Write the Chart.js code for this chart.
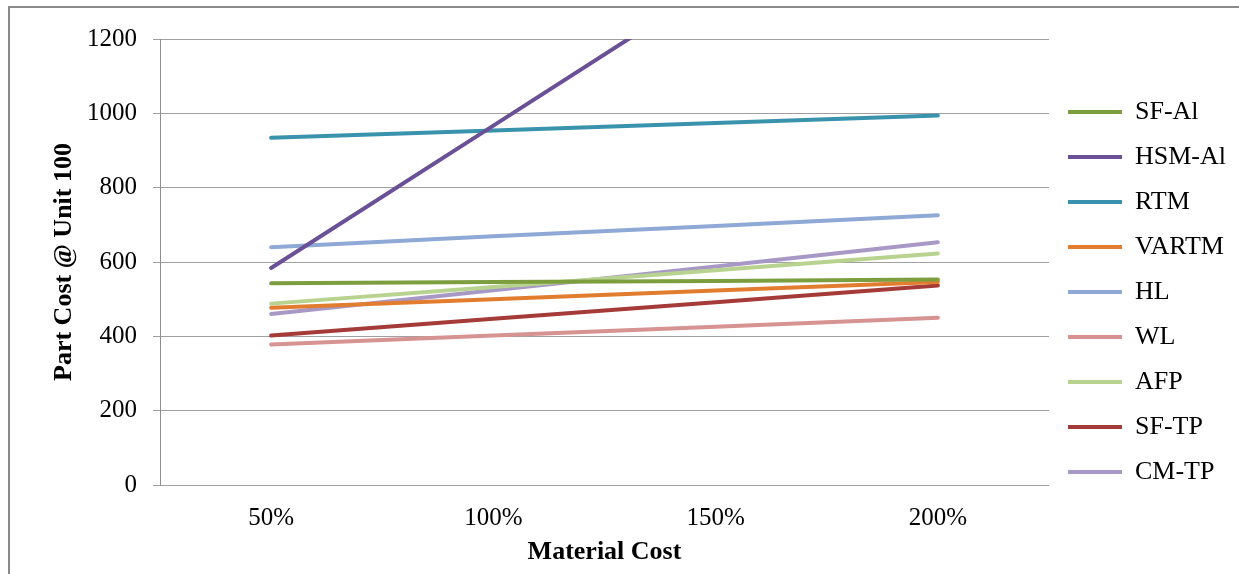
<!DOCTYPE html>
<html>
<head>
<meta charset="utf-8">
<script src="https://cdn.jsdelivr.net/npm/chart.js@4/dist/chart.umd.min.js"></script>
<style>
  html, body { margin: 0; padding: 0; background: #fff; }
  #wrap { position: relative; width: 1239px; height: 574px; }
</style>
</head>
<body>
<div id="wrap"><canvas id="c" width="1239" height="574"></canvas></div>
<script>
const categories = ['50%', '100%', '150%', '200%'];
const sfAl  = [543, 546, 549, 553];
const hsmAl = [584, 967, 1350, 1733];
const rtm   = [934, 954, 974, 994];
const vartm = [477, 500, 523, 546];
const hl    = [640, 669, 697, 726];
const wl    = [378, 402, 426, 450];
const afp   = [488, 533, 578, 623];
const sfTp  = [402, 447, 492, 537];
const cmTp  = [460, 524, 588, 653];
const yTicks = [0, 200, 400, 600, 800, 1000, 1200];

const seriesNames  = ['SF-Al', 'HSM-Al', 'RTM', 'VARTM', 'HL', 'WL', 'AFP', 'SF-TP', 'CM-TP'];
const seriesValues = [sfAl, hsmAl, rtm, vartm, hl, wl, afp, sfTp, cmTp];
const seriesColors = ['#7C9E3E', '#6A5096', '#3A93AD', '#E27D2F', '#8EA9D5', '#D69392', '#B8D38F', '#A43B39', '#A898C5'];

const serif = "'Liberation Serif', 'Times New Roman', serif";

const framePlugin = {
  id: 'frame',
  beforeDraw(chart) {
    const ctx = chart.ctx;
    ctx.save();
    ctx.strokeStyle = '#8a8a8a';
    ctx.lineWidth = 2;
    ctx.beginPath();
    ctx.moveTo(9, chart.height + 5);
    ctx.lineTo(9, 7);
    ctx.lineTo(chart.width + 5, 7);
    ctx.stroke();
    ctx.restore();
  }
};

new Chart(document.getElementById('c'), {
  type: 'line',
  data: {
    labels: categories,
    datasets: seriesNames.map((name, i) => ({
      label: name,
      data: seriesValues[i],
      borderColor: seriesColors[i],
      backgroundColor: seriesColors[i],
      borderWidth: 4,
      borderCapStyle: 'round',
      borderJoinStyle: 'round',
      pointRadius: 0,
      pointHoverRadius: 0,
      pointStyle: 'line',
      tension: 0,
      clip: { left: 5, right: 5, top: 0, bottom: 5 }
    }))
  },
  options: {
    responsive: false,
    animation: false,
    devicePixelRatio: 1,
    layout: { padding: { top: 10, right: 3, bottom: 0, left: 0 } },
    plugins: {
      tooltip: { enabled: false },
      legend: {
        position: 'right',
        align: 'center',
        labels: {
          usePointStyle: true,
          pointStyleWidth: 54,
          boxHeight: 26,
          padding: 19,
          color: '#000',
          font: { family: serif, size: 26 }
        }
      }
    },
    scales: {
      x: {
        type: 'category',
        offset: true,
        grid: { display: false, drawTicks: false },
        border: { display: true, color: '#a0a0a0', width: 1 },
        ticks: { color: '#000', padding: 18, font: { family: serif, size: 25 } },
        title: {
          display: true, text: 'Material Cost', color: '#000',
          font: { family: serif, size: 26, weight: 'bold' },
          padding: { top: 0, bottom: 6 }
        },
        afterFit(s) { s.height = 89; }
      },
      y: {
        min: 0, max: 1200,
        afterBuildTicks(s) { s.ticks = yTicks.map(v => ({ value: v })); },
        grid: { color: '#a0a0a0', lineWidth: 1, tickLength: 7, drawTicks: true },
        border: { display: true, color: '#8e8e8e', width: 1 },
        ticks: {
          color: '#000', padding: 16, font: { family: serif, size: 25 },
          callback: (v) => String(v)
        },
        title: {
          display: true, text: 'Part Cost @ Unit 100', color: '#000',
          font: { family: serif, size: 26, weight: 'bold' },
          padding: { top: 49, bottom: 0 }
        },
        afterFit(s) { s.width = 160; s.paddingTop = 39; }
      }
    }
  },
  plugins: [framePlugin]
});
</script>
</body>
</html>
